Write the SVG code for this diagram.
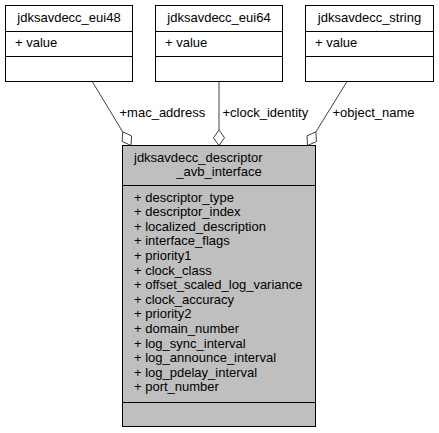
<svg xmlns="http://www.w3.org/2000/svg" width="439" height="433" viewBox="0 0 439 433">
<style>
text{font-family:"Liberation Sans",Arial,sans-serif;font-size:13px;fill:#000}
.box{fill:#fff;stroke:#000;stroke-width:1}
.main{fill:#bfbfbf;stroke:#000;stroke-width:1}
.div{stroke:#000;stroke-width:1}
.edge{stroke:#404040;stroke-width:1;fill:none}
.dia{fill:#fff;stroke:#404040;stroke-width:1}
.mid{text-anchor:middle}
</style>
<rect width="439" height="433" fill="#fff"/>
<g id="connectors">
<line class="edge" x1="92.5" y1="82" x2="122.7" y2="131.8"/>
<polygon class="dia" points="131,145.5 131.6,135.9 122.7,131.8 122.2,141.5"/>
<text x="119.5" y="116.5">+mac_address</text>
<line class="edge" x1="219" y1="82" x2="219" y2="130"/>
<polygon class="dia" points="219,145.5 224.5,137.75 219,130 213.5,137.75"/>
<text x="222.5" y="116.5">+clock_identity</text>
<line class="edge" x1="346.7" y1="82" x2="315.9" y2="131.9"/>
<polygon class="dia" points="307.5,145.5 316.4,141.6 315.9,131.9 307,135.8"/>
<text x="332.5" y="116.5">+object_name</text>
</g>
<g id="node_eui48">
<rect class="box" x="5.5" y="5.5" width="127" height="76"/>
<line class="div" x1="5.5" y1="31.5" x2="132.5" y2="31.5"/>
<line class="div" x1="5.5" y1="56.5" x2="132.5" y2="56.5"/>
<text class="mid" x="69" y="21.5">jdksavdecc_eui48</text>
<text x="15" y="46.5">+ value</text>
</g>
<g id="node_eui64">
<rect class="box" x="155.5" y="5.5" width="127" height="76"/>
<line class="div" x1="155.5" y1="31.5" x2="282.5" y2="31.5"/>
<line class="div" x1="155.5" y1="56.5" x2="282.5" y2="56.5"/>
<text class="mid" x="219" y="21.5">jdksavdecc_eui64</text>
<text x="165" y="46.5">+ value</text>
</g>
<g id="node_string">
<rect class="box" x="305.5" y="5.5" width="128" height="76"/>
<line class="div" x1="305.5" y1="31.5" x2="433.5" y2="31.5"/>
<line class="div" x1="305.5" y1="56.5" x2="433.5" y2="56.5"/>
<text class="mid" x="369.5" y="21.5">jdksavdecc_string</text>
<text x="315" y="46.5">+ value</text>
</g>
<g id="node_avb_interface">
<rect class="main" x="122.5" y="145.5" width="193" height="281"/>
<line class="div" x1="122.5" y1="185.5" x2="315.5" y2="185.5"/>
<line class="div" x1="122.5" y1="402.5" x2="315.5" y2="402.5"/>
<text x="134" y="161.5">jdksavdecc_descriptor</text>
<text class="mid" x="219" y="176">_avb_interface</text>
<text x="134" y="201.5">+ descriptor_type</text>
<text x="134" y="216.1">+ descriptor_index</text>
<text x="134" y="230.7">+ localized_description</text>
<text x="134" y="245.3">+ interface_flags</text>
<text x="134" y="259.9">+ priority1</text>
<text x="134" y="274.5">+ clock_class</text>
<text x="134" y="289.1">+ offset_scaled_log_variance</text>
<text x="134" y="303.7">+ clock_accuracy</text>
<text x="134" y="318.3">+ priority2</text>
<text x="134" y="332.9">+ domain_number</text>
<text x="134" y="347.5">+ log_sync_interval</text>
<text x="134" y="362.1">+ log_announce_interval</text>
<text x="134" y="376.7">+ log_pdelay_interval</text>
<text x="134" y="391.3">+ port_number</text>
</g>
</svg>
